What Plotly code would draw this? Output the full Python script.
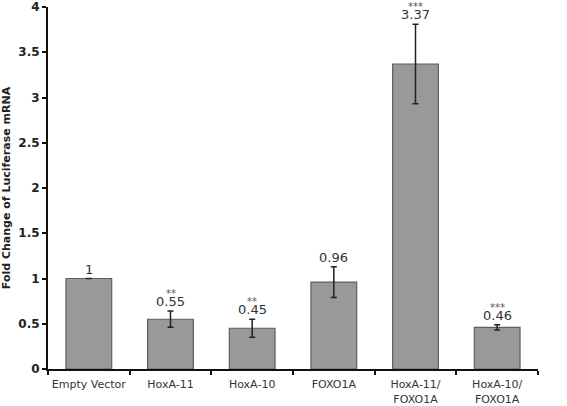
import plotly.graph_objects as go

categories = ["Empty Vector", "HoxA-11", "HoxA-10", "FOXO1A", "HoxA-11/<br>FOXO1A", "HoxA-10/<br>FOXO1A"]
values = [1.0, 0.55, 0.45, 0.96, 3.37, 0.46]
errors = [0.0, 0.09, 0.10, 0.17, 0.44, 0.03]
value_labels = ["1", "0.55", "0.45", "0.96", "3.37", "0.46"]
stars = ["", "**", "**", "", "***", "***"]
y_ticks = [0, 0.5, 1, 1.5, 2, 2.5, 3, 3.5, 4]

fig = go.Figure()
fig.add_trace(go.Bar(
    x=categories, y=values,
    marker=dict(color="#999999", line=dict(color="#5f5f5f", width=1.2)),
    error_y=dict(type="data", array=errors, visible=True, color="#222222", thickness=1.5, width=3),
    width=0.56,
    cliponaxis=False,
))

for c, v, e, lab, s in zip(categories, values, errors, value_labels, stars):
    fig.add_annotation(x=c, y=v + e, text=lab, showarrow=False, yanchor="bottom",
                       yshift=0, font=dict(family="DejaVu Sans", size=13, color="#333333"))
    if s:
        fig.add_annotation(x=c, y=v + e, text=s, showarrow=False, yanchor="bottom",
                           yshift=10, font=dict(family="DejaVu Sans", size=10, color="#555555"))

fig.update_layout(
    width=567, height=406,
    margin=dict(l=48, r=29, t=7, b=37, autoexpand=False),
    plot_bgcolor="white", paper_bgcolor="white",
    showlegend=False,
    font=dict(family="DejaVu Sans", color="#222222"),
    xaxis=dict(
        range=[-0.5, 5.5], showline=True, linecolor="#111111", linewidth=2,
        ticks="outside", ticklen=4, tickwidth=2, tickcolor="#111111", tickson="boundaries",
        tickangle=0, automargin=False, ticklabelstandoff=4,
        tickfont=dict(family="DejaVu Sans", size=11, color="#333333"),
        showgrid=False, zeroline=False,
    ),
    yaxis=dict(
        range=[0, 4], tickvals=y_ticks, ticktext=[f"{t:g}" for t in y_ticks],
        showline=True, linecolor="#111111", linewidth=2, automargin=False,
        ticks="outside", ticklen=4, tickwidth=2, tickcolor="#111111",
        ticklabeloverflow="allow",
        tickfont=dict(family="DejaVu Sans", size=12, color="#222222", weight="bold"),
        showgrid=False, zeroline=False,
        title=dict(text="<b>Fold Change of Luciferase mRNA</b>", font=dict(family="DejaVu Sans", size=11, color="#222222"), standoff=6),
    ),
)

fig.write_html("out.html")
